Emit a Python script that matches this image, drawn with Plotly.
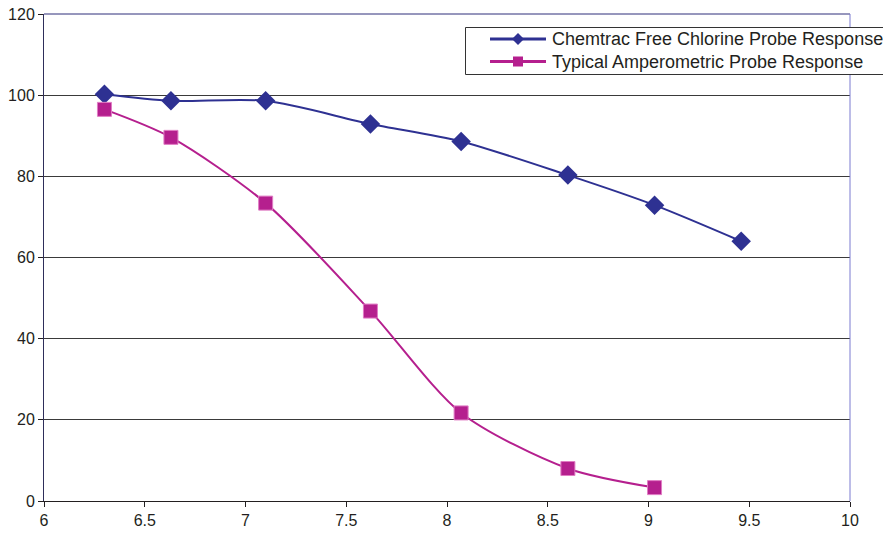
import plotly.graph_objects as go

ph = [6.30, 6.63, 7.10, 7.62, 8.07, 8.60, 9.03, 9.46]
chemtrac = [100.2, 98.6, 98.6, 92.9, 88.6, 80.3, 72.9, 64.0]
ph_amp = [6.30, 6.63, 7.10, 7.62, 8.07, 8.60, 9.03]
amperometric = [96.5, 89.6, 73.4, 46.8, 21.7, 8.0, 3.3]

name1 = "Chemtrac Free Chlorine Probe Response"
name2 = "Typical Amperometric Probe Response"

blue = "#2E3192"
magenta = "#B51F8E"

W, H = 883, 533
ML, MR, MT, MB = 44, 33, 14, 32
PW, PH = W - ML - MR, H - MT - MB


def px(x):
    return (x - ML) / PW


def py(y):
    return (H - MB - y) / PH


fig = go.Figure()
fig.add_trace(go.Scatter(x=ph, y=chemtrac, name=name1, mode="lines+markers",
                         showlegend=False,
                         line=dict(color=blue, width=2, shape="spline", smoothing=0.8),
                         marker=dict(symbol="diamond", size=15, color=blue)))
fig.add_trace(go.Scatter(x=ph_amp, y=amperometric, name=name2, mode="lines+markers",
                         showlegend=False,
                         line=dict(color=magenta, width=2, shape="spline", smoothing=0.8),
                         marker=dict(symbol="square", size=14, color=magenta,
                                     line=dict(color="#E07CC4", width=1))))

shapes = []
# plot frame lines (top and right)
shapes.append(dict(type="line", xref="paper", yref="paper", x0=0, x1=1, y0=1, y1=1,
                   line=dict(color="#2E2E7A", width=1)))
shapes.append(dict(type="line", xref="paper", yref="paper", x0=1, x1=1, y0=0, y1=1,
                   line=dict(color="#7B7BD0", width=1)))

# legend box (extends past the right edge as in the reference)
shapes.append(dict(type="rect", xref="paper", yref="paper", x0=px(465.5), x1=px(905),
                   y0=py(27.5), y1=py(74.5), fillcolor="white",
                   line=dict(color="#333333", width=1), layer="above"))
rows = [(39, blue, "diamond", name1), (61.5, magenta, "square", name2)]
annotations = []
for yc, col, sym, name in rows:
    shapes.append(dict(type="line", xref="paper", yref="paper", x0=px(490), x1=px(546),
                       y0=py(yc), y1=py(yc), line=dict(color=col, width=3), layer="above"))
    if sym == "diamond":
        path = (f"M {px(512)} {py(yc)} L {px(518)} {py(yc - 6)} "
                f"L {px(524)} {py(yc)} L {px(518)} {py(yc + 6)} Z")
        shapes.append(dict(type="path", xref="paper", yref="paper", path=path,
                           fillcolor=col, line=dict(color=col, width=0), layer="above"))
    else:
        shapes.append(dict(type="rect", xref="paper", yref="paper", x0=px(513), x1=px(523),
                           y0=py(yc - 5), y1=py(yc + 5), fillcolor=col,
                           line=dict(color=col, width=0), layer="above"))
    annotations.append(dict(xref="paper", yref="paper", x=px(550), y=py(yc),
                            xanchor="left", yanchor="middle", showarrow=False,
                            text=name, font=dict(size=18, color="#231F20")))

fig.update_layout(
    width=W, height=H,
    margin=dict(l=ML, r=MR, t=MT, b=MB, autoexpand=False),
    paper_bgcolor="white", plot_bgcolor="white",
    font=dict(family="Liberation Sans, Arial, sans-serif", size=16, color="#231F20"),
    showlegend=False,
    shapes=shapes, annotations=annotations,
    xaxis=dict(range=[6, 10], dtick=0.5, tick0=6, showgrid=False, zeroline=False,
               showline=True, linecolor="#231F20", linewidth=1, automargin=False,
               ticks="outside", ticklen=5, tickcolor="#231F20",
               tickfont=dict(size=16)),
    yaxis=dict(range=[0, 120], dtick=20, showgrid=True, gridcolor="#3A3A3A", gridwidth=1,
               zeroline=False, showline=True, linecolor="#2E2E5A", linewidth=1,
               automargin=False,
               ticks="outside", ticklen=5, tickcolor="#231F20",
               tickfont=dict(size=16)),
)

fig.write_html("out.html", config={"displayModeBar": False},
               post_script="document.body.style.margin='0';document.body.style.overflow='hidden';")
